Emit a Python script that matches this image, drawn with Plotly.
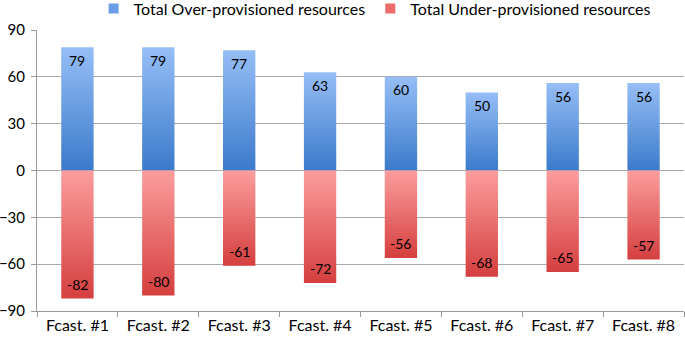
import plotly.graph_objects as go

categories = ["Fcast. #1", "Fcast. #2", "Fcast. #3", "Fcast. #4",
              "Fcast. #5", "Fcast. #6", "Fcast. #7", "Fcast. #8"]
over = [79, 79, 77, 63, 60, 50, 56, 56]
under = [-82, -80, -61, -72, -56, -68, -65, -57]
y_ticks = [-90, -60, -30, 0, 30, 60, 90]

FONT = "Lato, Open Sans, sans-serif"
BAR_HALF = 0.2
BLUE_SCALE = [[0, "#3b7acb"], [1, "#96bef6"]]
RED_SCALE = [[0, "#d53f3f"], [1, "#fc9d9d"]]

fig = go.Figure()

def add_bar(i, value, scale):
    x0, x1 = i - BAR_HALF, i + BAR_HALF
    fig.add_trace(go.Scatter(
        x=[x0, x1, x1, x0, x0], y=[0, 0, value, value, 0],
        mode="lines", line=dict(width=0), fill="toself",
        fillgradient=dict(type="vertical", colorscale=scale),
        showlegend=False, hoverinfo="skip",
    ))

for i, v in enumerate(over):
    add_bar(i, v, BLUE_SCALE)
for i, v in enumerate(under):
    add_bar(i, v, RED_SCALE)

idx = list(range(len(categories)))
for i, v in enumerate(over):
    fig.add_annotation(x=i, y=v, text=str(v), showarrow=False, yshift=-13,
                       font=dict(color="black", size=14, family=FONT))
for i, v in enumerate(under):
    fig.add_annotation(x=i, y=v, text=str(v), showarrow=False, yshift=14,
                       font=dict(color="black", size=14, family=FONT))

# legend entries
fig.add_trace(go.Scatter(
    x=[None], y=[None], mode="markers", name="Total Over-provisioned resources",
    marker=dict(symbol="square", size=10, color="#6a9de6"),
))
fig.add_trace(go.Scatter(
    x=[None], y=[None], mode="markers", name="Total Under-provisioned resources",
    marker=dict(symbol="square", size=10, color="#ec6b6b"),
))

fig.update_layout(
    width=685, height=339,
    margin=dict(l=37, r=1, t=30, b=28, autoexpand=False),
    paper_bgcolor="white", plot_bgcolor="white",
    font=dict(family=FONT, size=16, color="black"),
    showlegend=True,
    legend=dict(orientation="h", x=0.0875, xanchor="left", y=1.137, yanchor="top",
                font=dict(size=16, family=FONT), itemwidth=30,
                traceorder="normal", bgcolor="rgba(0,0,0,0)"),
)
fig.update_xaxes(
    range=[-0.5, len(categories) - 0.5], automargin=False,
    tickvals=idx, ticktext=categories, ticks="",
    minor=dict(tickvals=[i - 0.5 for i in range(len(categories) + 1)],
               ticks="outside", ticklen=5, tickcolor="#999999", showgrid=False),
    showline=True, linecolor="#999999", linewidth=1,
    showgrid=False, zeroline=False,
    tickfont=dict(size=16, family=FONT, color="black"),
)
fig.update_yaxes(
    range=[-90, 90], tickvals=y_ticks, ticks="outside", ticklen=5, automargin=False,
    tickcolor="#999999", showline=True, linecolor="#999999", linewidth=1,
    showgrid=True, gridcolor="#aaaaaa", gridwidth=1,
    zeroline=True, zerolinecolor="#aaaaaa", zerolinewidth=1,
    ticklabelstandoff=3,
    tickfont=dict(size=15, family=FONT, color="black"),
)

fig.write_html("out.html", config={"displayModeBar": False},
               post_script="document.body.style.margin='0';")
